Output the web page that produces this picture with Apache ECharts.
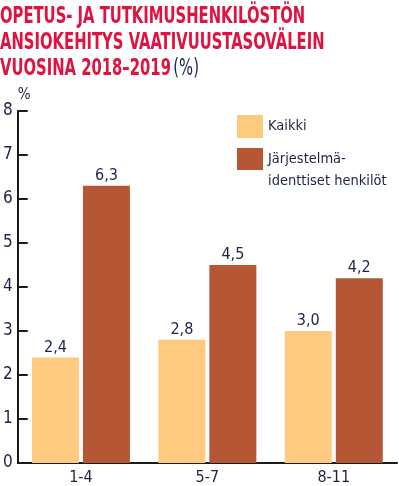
<!DOCTYPE html>
<html>
<head>
<meta charset="utf-8">
<script src="https://cdn.jsdelivr.net/npm/echarts@6/dist/echarts.min.js"></script>
<style>
  html, body { margin: 0; padding: 0; background: #fff; }
  #chart { width: 399px; height: 486px; }
</style>
</head>
<body>
<div id="chart"></div>
<script>
// vaativuustasovälit
const categories = ['1-4', '5-7', '8-11'];
const seriesNames = ['Kaikki', 'Järjestelmäidenttiset henkilöt'];
const kaikki = [2.4, 2.8, 3.0];
const jarjestelma = [6.3, 4.5, 4.2];
const yTicks = [0, 1, 2, 3, 4, 5, 6, 7, 8];

const navy = '#1c2347';
const font = '"Liberation Sans Narrow", "DejaVu Sans Condensed", sans-serif';

let chart = echarts.init(document.getElementById('chart'));
let option = {
  animation: false,
  color: ['#fdca80', '#b55734'],
  // otsikko kapeammaksi skaalattuna
  graphic: [{
    type: 'text',
    x: 0,
    y: 4,
    scaleX: 0.715,
    style: {
      text: '{r|OPETUS- JA TUTKIMUSHENKILÖSTÖN}\n{r|ANSIOKEHITYS VAATIVUUSTASOVÄLEIN}\n{r|VUOSINA 2018–2019} {n|(%)}',
      rich: {
        r: { fontFamily: font, fontWeight: 'bold', fontSize: 23, fill: '#e0123f', lineHeight: 26 },
        n: { fontFamily: font, fontWeight: 'normal', fontSize: 23, fill: navy, lineHeight: 26 }
      }
    }
  }],
  legend: [{
    orient: 'vertical',
    left: 237,
    top: 115,
    padding: 0,
    itemWidth: 26,
    itemHeight: 23,
    itemGap: 7,
    icon: 'rect',
    data: [seriesNames[0]],
    textStyle: { fontFamily: font, fontSize: 14.5, color: navy }
  }, {
    orient: 'vertical',
    left: 237,
    top: 126,
    padding: 0,
    itemWidth: 26,
    itemHeight: 22,
    itemGap: 7,
    icon: 'rect',
    data: [seriesNames[1]],
    // tyhjä ensimmäinen rivi, jotta ruutu asettuu ylimmän tekstirivin kohdalle
    formatter: () => ' \nJärjestelmä-\nidenttiset henkilöt',
    textStyle: { fontFamily: font, fontSize: 14.5, lineHeight: 22, color: navy }
  }],
  grid: { left: 17, right: 2, top: 111, bottom: 19 },
  xAxis: {
    type: 'category',
    data: categories,
    axisLine: { lineStyle: { color: '#1a1a1a', width: 2 } },
    axisTick: { inside: true, length: 9, lineStyle: { color: '#1a1a1a', width: 2 } },
    axisLabel: { fontFamily: font, fontSize: 16, color: navy, margin: 7 }
  },
  yAxis: {
    type: 'value',
    min: yTicks[0],
    max: yTicks[yTicks.length - 1],
    interval: 1,
    name: '%',
    nameLocation: 'end',
    nameGap: 1,
    nameTextStyle: { fontFamily: font, fontSize: 15, color: navy, align: 'left' },
    splitLine: { show: false },
    axisLine: { show: true, lineStyle: { color: '#1a1a1a', width: 2 } },
    axisTick: { show: true, inside: true, length: 10, lineStyle: { color: '#1a1a1a', width: 2 } },
    axisLabel: { fontFamily: font, fontSize: 17, color: navy, margin: 5 }
  },
  series: [{
    type: 'bar',
    name: seriesNames[0],
    data: kaikki,
    barWidth: 47,
    barGap: '8.5%',
    label: { show: true, position: 'top', distance: 2, fontFamily: font, fontSize: 16, color: navy,
      formatter: p => p.value.toFixed(1).replace('.', ',') }
  }, {
    type: 'bar',
    name: seriesNames[1],
    data: jarjestelma,
    barWidth: 47,
    barGap: '8.5%',
    label: { show: true, position: 'top', distance: 2, fontFamily: font, fontSize: 16, color: navy,
      formatter: p => p.value.toFixed(1).replace('.', ',') }
  }]
};
chart.setOption(option);
</script>
</body>
</html>
